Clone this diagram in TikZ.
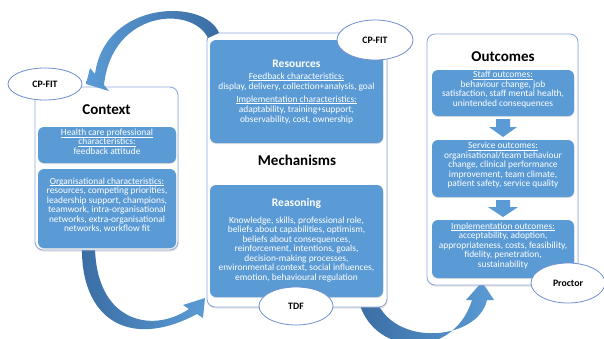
\documentclass[tikz,border=0pt]{standalone}
\usepackage{fontspec}
\setmainfont{Carlito}
\usetikzlibrary{shapes.geometric,shadows}
\definecolor{boxblue}{HTML}{5B9BD5}
\definecolor{outline}{HTML}{8FAADC}
\definecolor{ellline}{HTML}{6F8FCF}
\definecolor{arrdark}{HTML}{3A6DA3}
\definecolor{arrlight}{HTML}{5B9BD5}
\newcommand\ulin[1]{\underline{\smash{#1}}}
\begin{document}
\begin{tikzpicture}[x=1pt,y=-1pt,
 outerbox/.style={draw=outline, line width=0.9pt, fill=white, rounded corners=8pt, inner sep=0pt,
   drop shadow={shadow xshift=0.6pt, shadow yshift=-1.6pt, opacity=0.22}},
 bluebox/.style={fill=boxblue, rounded corners=6pt, inner sep=0pt, text=white, align=center, font=\fontsize{9.4}{9.5}\selectfont,
   drop shadow={shadow xshift=0.3pt, shadow yshift=-1pt, opacity=0.25}},
 ttl/.style={font=\fontsize{15}{18}\selectfont\bfseries, inner sep=0pt},
 subttl/.style={font=\fontsize{11.5}{14}\selectfont\bfseries, text=white, inner sep=0pt},
 bodytxt/.style={text=white, align=center, font=\fontsize{9.4}{9.5}\selectfont, inner sep=0pt},
 tagell/.style={ellipse, draw=ellline, line width=0.8pt, fill=white, inner sep=0pt, font=\fontsize{9.8}{11}\selectfont\bfseries},
 blockarrow/.style={fill=boxblue}
]
\useasboundingbox (0,0) rectangle (604,338);

% curved arrows behind the boxes
\shade[left color=arrdark, right color=arrlight]
  (82,245) .. controls (80,320) and (130,350) .. (197,314) -- (203,318) -- (205,298) -- (183,305) -- (189,309)
  .. controls (150,335) and (95,320) .. (95,245) -- cycle;
\shade[left color=arrdark, right color=arrlight]
  (357,290) .. controls (362,355) and (452,365) .. (472,300) -- (466,300) -- (482,282) -- (494,300) -- (487,300)
  .. controls (478,342) and (385,350) .. (373,290) -- cycle;

% Context
\node[outerbox, minimum width=143pt, minimum height=163pt] (ctx) at (106.5,168.5) {};
\node[ttl] (ctxt) at (106.5,110) {Context};
\node[bluebox, minimum width=138pt, minimum height=36pt] (hcp) at (107,145)
  {\ulin{Health care professional}\\\ulin{characteristics:}\\feedback attitude};
\node[bluebox, minimum width=138pt, minimum height=79pt] (org) at (107,208.5)
  {\ulin{Organisational characteristics:}\\resources, competing priorities,\\leadership support, champions,\\teamwork, intra-organisational\\networks, extra-organisational\\networks, workflow fit};
\node[tagell, minimum width=74pt, minimum height=32pt] (cpfit1) at (45,84) {CP-FIT};

% Mechanisms
\node[outerbox, minimum width=180pt, minimum height=274pt] (mech) at (297,170) {};
\node[bluebox, minimum width=173pt, minimum height=103pt] (res) at (296.5,91.5) {};
\node[subttl] (rest) at (296.5,64) {Resources};
\node[bodytxt, font=\fontsize{9.4}{10}\selectfont] (resb) at (296.5,101.5)
  {\ulin{Feedback characteristics:}\\display, delivery, collection+analysis, goal\\[3pt]\ulin{Implementation characteristics:}\\adaptability, training+support,\\observability, cost, ownership};
\node[ttl] (mecht) at (297,160) {Mechanisms};
\node[bluebox, minimum width=173pt, minimum height=112pt] (reas) at (296.5,241) {};
\node[subttl] (reast) at (296.5,203) {Reasoning};
\node[bodytxt] (reasb) at (296.5,249.5)
  {Knowledge, skills, professional role,\\beliefs about capabilities, optimism,\\beliefs about consequences,\\reinforcement, intentions, goals,\\decision-making processes,\\environmental context, social influences,\\emotion, behavioural regulation};
\node[tagell, minimum width=74pt, minimum height=38pt] (tdf) at (296,306) {TDF};
\node[tagell, minimum width=76pt, minimum height=40pt] (cpfit2) at (375,40) {CP-FIT};

% Outcomes
\node[outerbox, minimum width=151pt, minimum height=251pt] (outc) at (502.5,159.5) {};
\node[ttl] (outct) at (503,57) {Outcomes};
\node[bluebox, minimum width=142pt, minimum height=46pt] (staff) at (503,93)
  {\ulin{Staff outcomes:}\\behaviour change, job\\satisfaction, staff mental health,\\unintended consequences};
\node[bluebox, minimum width=142pt, minimum height=57pt] (serv) at (503,168.5)
  {\ulin{Service outcomes:}\\organisational/team behaviour\\change, clinical performance\\improvement, team climate,\\patient safety, service quality};
\node[bluebox, minimum width=142pt, minimum height=58pt] (impl) at (503,249)
  {\ulin{Implementation outcomes:}\\acceptability, adoption,\\appropriateness, costs, feasibility,\\fidelity, penetration,\\sustainability};
\fill[blockarrow] (496,119) -- (510,119) -- (510,127) -- (517,127) -- (503,137) -- (489,127) -- (496,127) -- cycle;
\fill[blockarrow] (496,200) -- (510,200) -- (510,207) -- (518,207) -- (503,217) -- (488,207) -- (496,207) -- cycle;
\node[tagell, minimum width=74pt, minimum height=40pt] (proctor) at (568,283) {Proctor};

% top curved arrow
\shade[left color=arrlight, right color=arrdark]
  (219,33) .. controls (205,-2) and (105,0) .. (95,74) -- (90,68) -- (86,84) -- (109,91) -- (104,85)
  .. controls (112,10) and (192,5) .. (208,38) -- cycle;
\end{tikzpicture}
\end{document}
